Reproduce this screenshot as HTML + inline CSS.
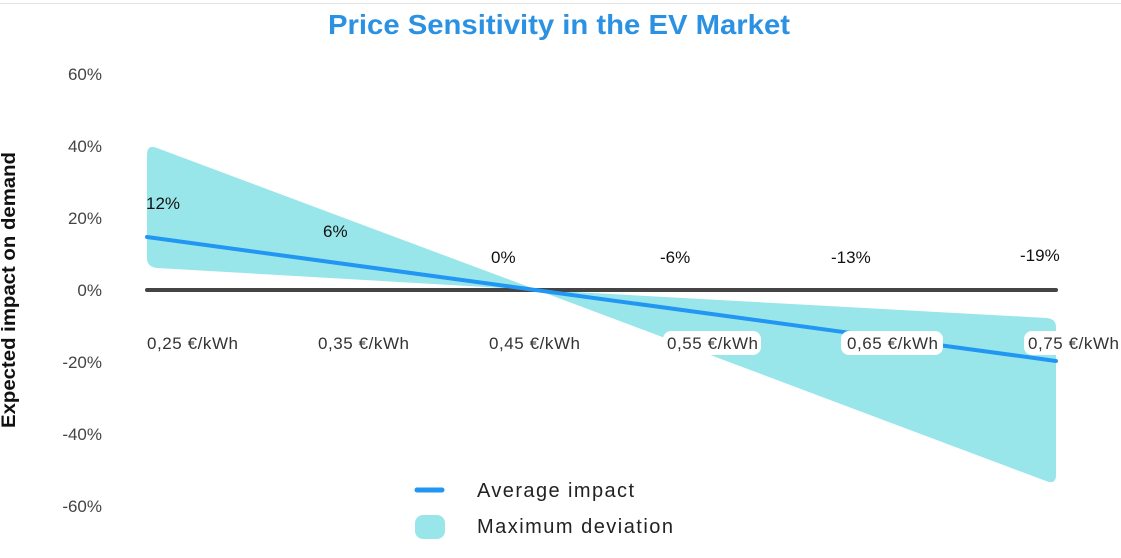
<!DOCTYPE html>
<html><head><meta charset="utf-8"><style>
html,body{margin:0;padding:0;background:#fff;}
svg{display:block;font-family:"Liberation Sans",sans-serif;}
</style></head><body>
<svg width="1121" height="558" viewBox="0 0 1121 558">
<line x1="0" y1="3.5" x2="1121" y2="3.5" stroke="#e3e3e3" stroke-width="1"/>
<text x="328" y="34" font-size="28" font-weight="bold" fill="#2b91e3" textLength="462" lengthAdjust="spacingAndGlyphs">Price Sensitivity in the EV Market</text>
<g font-size="17" fill="#444" text-anchor="end">
<text x="102" y="80">60%</text>
<text x="102" y="152">40%</text>
<text x="102" y="224">20%</text>
<text x="102" y="296">0%</text>
<text x="102" y="368">-20%</text>
<text x="102" y="440">-40%</text>
<text x="102" y="512">-60%</text>
</g>
<text transform="translate(15,428) rotate(-90)" font-size="19" font-weight="bold" fill="#111" textLength="276" lengthAdjust="spacingAndGlyphs">Expected impact on demand</text>
<path d="M147,155 Q147,144 157,148 L537,290 L1047,318 Q1056,319 1056,327 L1056,475 Q1056,485 1046,481 L537,290 L157,268 Q147,267 147,258 Z" fill="#99e6ea"/>
<line x1="147" y1="290" x2="1056" y2="290" stroke="#444" stroke-width="4" stroke-linecap="round"/>
<line x1="147" y1="237" x2="1056" y2="361" stroke="#2196f3" stroke-width="4" stroke-linecap="round"/>
<g font-size="17" fill="#111">
<text x="146" y="209">12%</text>
<text x="323" y="237">6%</text>
<text x="491" y="263">0%</text>
<text x="660" y="263">-6%</text>
<text x="831" y="263">-13%</text>
<text x="1020" y="261">-19%</text>
</g>
<rect x="663" y="331" width="98" height="24" rx="8" fill="#fff"/>
<rect x="841" y="331" width="102" height="24" rx="8" fill="#fff"/>
<rect x="1024" y="331" width="97" height="24" rx="8" fill="#fff"/>
<g font-size="17" fill="#333" lengthAdjust="spacingAndGlyphs">
<text x="147" y="349" textLength="91">0,25 €/kWh</text>
<text x="318" y="349" textLength="91">0,35 €/kWh</text>
<text x="489" y="349" textLength="91">0,45 €/kWh</text>
<text x="667" y="349" textLength="91">0,55 €/kWh</text>
<text x="847" y="349" textLength="91">0,65 €/kWh</text>
<text x="1028" y="349" textLength="91">0,75 €/kWh</text>
</g>
<line x1="417" y1="490" x2="442" y2="490" stroke="#2196f3" stroke-width="5" stroke-linecap="round"/>
<rect x="415" y="515" width="30" height="24" rx="8" fill="#99e6ea"/>
<g font-size="20" fill="#222" lengthAdjust="spacingAndGlyphs">
<text x="477" y="497" textLength="157">Average impact</text>
<text x="477" y="533" textLength="196">Maximum deviation</text>
</g>
</svg>
</body></html>
